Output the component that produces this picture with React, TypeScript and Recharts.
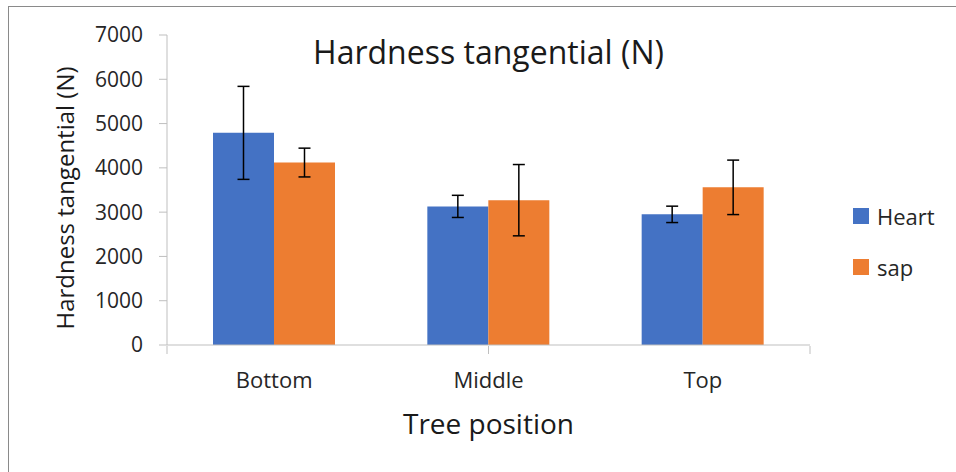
import { BarChart, Bar, XAxis, YAxis, ErrorBar, Label } from 'recharts';

const positions = ['Bottom', 'Middle', 'Top'];
const heartValues = [4790, 3130, 2950];
const heartErrors = [1050, 250, 185];
const sapValues = [4120, 3270, 3560];
const sapErrors = [325, 805, 615];
const yTicks = [0, 1000, 2000, 3000, 4000, 5000, 6000, 7000];
const dividerTicks = [0, 1, 2, 3];

const seriesNames = ['Heart', 'sap'];
const seriesColors = ['#4472C4', '#ED7D31'];

const data = positions.map((p, i) => ({
  position: p,
  heart: heartValues[i],
  heartErr: heartErrors[i],
  sap: sapValues[i],
  sapErr: sapErrors[i],
}));

const FONT = "'Open Sans', sans-serif";
const AXIS_GRAY = '#bfbfbf';

const YTitle = ({ viewBox }: any) => {
  const cx = viewBox.x + 64;
  const cy = viewBox.y + viewBox.height / 2 + 8;
  return (
    <text
      x={cx}
      y={cy}
      transform={`rotate(-90, ${cx}, ${cy})`}
      textAnchor="middle"
      dominantBaseline="central"
      fontSize={24}
      fontFamily={FONT}
      fill="#1a1a1a"
    >
      Hardness tangential (N)
    </text>
  );
};

export default function App() {
  return (
    <div
      style={{
        position: 'fixed',
        left: 0,
        top: 0,
        width: 956,
        height: 472,
        background: '#fff',
        overflow: 'hidden',
        fontFamily: FONT,
      }}
    >
      <div
        style={{
          position: 'absolute',
          left: 8,
          top: 6,
          width: 1000,
          height: 500,
          borderTop: '1px solid #8a8a8a',
          borderLeft: '1px solid #8a8a8a',
        }}
      />
      <div
        style={{
          position: 'absolute',
          left: 167,
          width: 643,
          top: 34,
          textAlign: 'center',
          fontSize: 32,
          lineHeight: '36px',
          color: '#1a1a1a',
        }}
      >
        Hardness tangential (N)
      </div>
      <div style={{ position: 'absolute', left: 0, top: 0 }}>
        <BarChart
          width={956}
          height={472}
          data={data}
          margin={{ top: 35, right: 146, bottom: 0, left: 0 }}
          barCategoryGap={46}
          barGap={0}
        >
          {/* category axis sits right on the plot, its labels hang below */}
          <XAxis
            xAxisId="cat"
            dataKey="position"
            height={1}
            tickLine={false}
            axisLine={{ stroke: AXIS_GRAY }}
            tickSize={0}
            tickMargin={27}
            tick={{ fontSize: 22, fill: '#262626', fontFamily: FONT }}
          >
            <Label
              value="Tree position"
              position="insideBottom"
              offset={-88}
              style={{ fontSize: 28, fill: '#1a1a1a', fontFamily: FONT }}
            />
          </XAxis>
          {/* category dividers below the axis line */}
          <XAxis
            xAxisId="div"
            type="number"
            domain={[0, 3]}
            ticks={dividerTicks}
            allowDataOverflow
            tickFormatter={() => ''}
            axisLine={false}
            tickLine={{ stroke: AXIS_GRAY }}
            tickSize={8}
            height={126}
          />
          <YAxis
            width={167}
            domain={[0, 7000]}
            ticks={yTicks}
            interval={0}
            axisLine={{ stroke: AXIS_GRAY }}
            tickLine={{ stroke: AXIS_GRAY }}
            tickSize={8}
            tickMargin={16}
            tick={{ fontSize: 21, fill: '#262626', fontFamily: FONT }}
          >
            <Label content={YTitle} />
          </YAxis>
          <Bar xAxisId="cat" dataKey="heart" name={seriesNames[0]} fill={seriesColors[0]} isAnimationActive={false}>
            <ErrorBar dataKey="heartErr" width={6} stroke="#000" strokeWidth={1.5} />
          </Bar>
          <Bar xAxisId="cat" dataKey="sap" name={seriesNames[1]} fill={seriesColors[1]} isAnimationActive={false}>
            <ErrorBar dataKey="sapErr" width={6} stroke="#000" strokeWidth={1.5} />
          </Bar>
        </BarChart>
      </div>
      <div style={{ position: 'absolute', left: 853, top: 200 }}>
        {seriesNames.map((name, i) => (
          <div
            key={name}
            style={{ display: 'flex', alignItems: 'center', height: 32, marginBottom: i === 0 ? 19 : 0 }}
          >
            <span
              style={{ width: 16, height: 16, background: seriesColors[i], display: 'inline-block', marginRight: 8 }}
            />
            <span style={{ fontSize: 22, color: '#262626' }}>{name}</span>
          </div>
        ))}
      </div>
    </div>
  );
}
